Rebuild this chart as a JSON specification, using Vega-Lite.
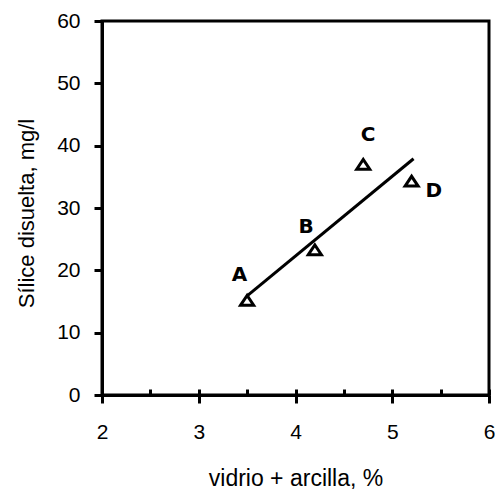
{
  "$schema": "https://vega.github.io/schema/vega-lite/v6.json",
  "width": 387,
  "height": 374,
  "autosize": "none",
  "padding": {"left": 102, "top": 21, "right": 6, "bottom": 96},
  "background": "white",
  "config": {
    "view": {"stroke": "black", "strokeWidth": 3},
    "axis": {
      "domainColor": "black",
      "domainWidth": 3,
      "tickColor": "black",
      "tickWidth": 3,
      "grid": false,
      "labelFont": "Liberation Sans",
      "labelFontSize": 21,
      "labelColor": "black",
      "labelFlush": false,
      "titleFont": "Liberation Sans",
      "titleFontSize": 22,
      "titleFontWeight": "normal",
      "titleColor": "black"
    }
  },
  "datasets": {
    "points": [
      {"x": 3.5, "y": 15.2, "label": "A", "lx": 3.42, "ly": 19.25},
      {"x": 4.2, "y": 23.3, "label": "B", "lx": 4.11, "ly": 26.9},
      {"x": 4.7, "y": 37.0, "label": "C", "lx": 4.75, "ly": 41.7},
      {"x": 5.2, "y": 34.3, "label": "D", "lx": 5.43, "ly": 32.8}
    ],
    "fit": [
      {"x": 3.5, "y": 15.9},
      {"x": 5.22, "y": 37.9}
    ]
  },
  "layer": [
    {
      "data": {"name": "fit"},
      "mark": {"type": "line", "color": "black", "strokeWidth": 3},
      "encoding": {
        "x": {
          "field": "x", "type": "quantitative",
          "scale": {"domain": [2, 6], "zero": false, "nice": false},
          "axis": {
            "orient": "bottom",
            "values": [2, 3, 4, 5, 6],
            "tickSize": 8,
            "labelPadding": 18,
            "title": "vidrio + arcilla, %",
            "titleFontSize": 23,
            "titlePadding": 25
          }
        },
        "y": {
          "field": "y", "type": "quantitative",
          "scale": {"domain": [0, 60], "nice": false},
          "axis": {
            "values": [0, 10, 20, 30, 40, 50, 60],
            "tickSize": 8,
            "labelPadding": 14,
            "title": "Sílice disuelta, mg/l",
            "titlePadding": 18,
            "titleY": 192
          }
        }
      }
    },
    {
      "data": {"name": "points"},
      "mark": {
        "type": "point",
        "shape": "M-1,0.75L0,-0.75L1,0.75Z",
        "size": 170,
        "filled": false,
        "stroke": "black",
        "strokeWidth": 3,
        "opacity": 1
      },
      "encoding": {
        "x": {
          "field": "x", "type": "quantitative",
          "axis": {
            "orient": "bottom",
            "values": [2, 2.5, 3, 3.5, 4, 4.5, 5, 5.5, 6],
            "tickSize": -6,
            "labels": false,
            "domain": false,
            "title": null
          }
        },
        "y": {"field": "y", "type": "quantitative"}
      }
    },
    {
      "data": {"name": "points"},
      "mark": {
        "type": "text",
        "font": "DejaVu Sans",
        "fontWeight": "bold",
        "fontSize": 20,
        "color": "black",
        "align": "center",
        "baseline": "middle"
      },
      "encoding": {
        "x": {"field": "lx", "type": "quantitative", "axis": null},
        "y": {"field": "ly", "type": "quantitative"},
        "text": {"field": "label"}
      }
    }
  ],
  "resolve": {"axis": {"x": "independent"}}
}
